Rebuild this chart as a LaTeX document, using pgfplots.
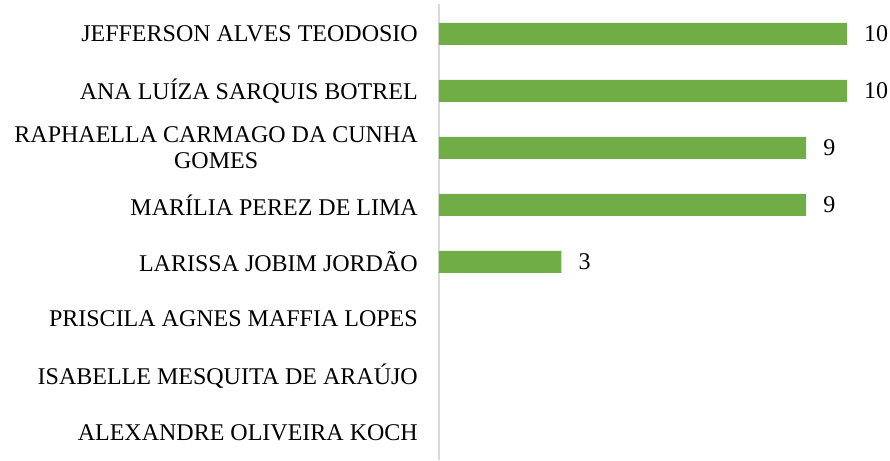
\documentclass[border=0pt]{standalone}
\usepackage{pgfplots}
\pgfplotsset{compat=1.18}
\usepackage{fontspec}
\setmainfont{Liberation Serif}
\definecolor{barg}{HTML}{70AD47}
\definecolor{axg}{HTML}{D9D9D9}
\begin{document}
\fontsize{24}{26}\selectfont
\begin{tikzpicture}
\begin{axis}[
  scale only axis,
  width=408pt, height=456pt,
  xbar, bar width=22pt,
  xmin=0, xmax=10,
  ymin=-0.474, ymax=7.526,
  axis x line=none,
  axis y line*=left,
  y axis line style={axg, line width=1.5pt},
  ytick={0,...,7},
  yticklabels={ALEXANDRE OLIVEIRA KOCH, ISABELLE MESQUITA DE ARAÚJO, PRISCILA AGNES MAFFIA LOPES, LARISSA JOBIM JORDÃO, MARÍLIA PEREZ DE LIMA, {RAPHAELLA CARMAGO DA CUNHA\\GOMES}, ANA LUÍZA SARQUIS BOTREL, JEFFERSON ALVES TEODOSIO},
  yticklabel style={align=center, font=\fontsize{24}{26}\selectfont, xshift=-13pt},
  major tick length=0pt,
  clip=false,
  nodes near coords,
  every node near coord/.append style={font=\fontsize{24}{26}\selectfont, anchor=west, xshift=9pt},
  /pgf/number format/assume math mode=true,
]
\addplot[fill=barg, draw=none] coordinates {(3,3) (9,4) (9,5) (10,6) (10,7)};
\end{axis}
\pgfresetboundingbox
\path[use as bounding box] (-439pt,0pt) rectangle (451pt,460pt);
\end{tikzpicture}
\end{document}
